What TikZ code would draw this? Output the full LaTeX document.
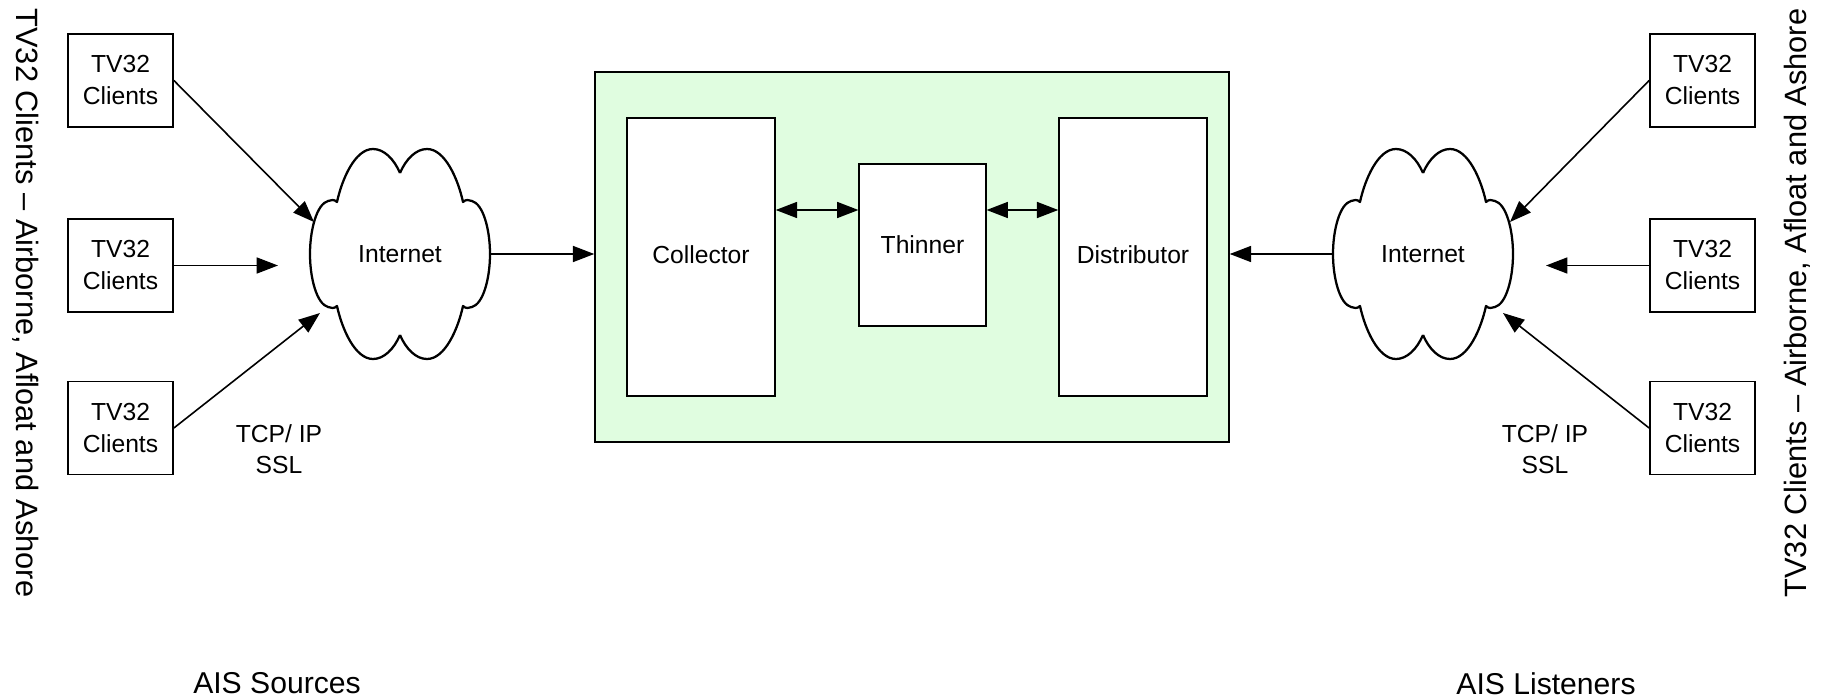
\documentclass[tikz,border=0pt]{standalone}
\usepackage{fontspec}
\setmainfont{Liberation Sans}
\usetikzlibrary{arrows.meta}

\definecolor{greenfill}{RGB}{224,253,224}

\tikzset{
  clientbox/.style={draw, line width=1.1pt, minimum width=79pt, minimum height=69.5pt,
                    inner sep=0pt, align=center, font=\fontsize{18.5}{24}\selectfont},
  blockbox/.style={draw, fill=white, line width=1.1pt, inner sep=0pt, font=\fontsize{18.5}{24}\selectfont},
  cloudbox/.style={minimum width=135pt, minimum height=157pt, inner sep=0pt, font=\fontsize{18.5}{24}\selectfont},
  lbl/.style={inner sep=0pt, align=center, font=\fontsize{18.5}{23.2}\selectfont},
  sidelbl/.style={inner sep=0pt, font=\fontsize{23.1}{28}\selectfont},
  quarter/.pic={
    \draw[-, line width=1.7pt, line join=round] (0,-81) .. controls (6,-95) and (16,-105) .. (27,-105)
      .. controls (45,-105) and (58,-75) .. (63,-52)
      .. controls (66,-55) and (69,-54) .. (72,-53)
      .. controls (83,-50) and (90,-25) .. (90,0);
  }
}

\begin{document}
\begin{tikzpicture}[x=0.75pt, y=-0.75pt, ->, >={Triangle[length=16pt,width=12pt]}, line width=1.2pt]
\useasboundingbox (0,0) rectangle (1829,699);

\node [clientbox] (srcA) at (120.5,80.5) {TV32\\Clients};
\node [clientbox] (srcB) at (120.5,265.5) {TV32\\Clients};
\node [clientbox] (srcC) at (120.5,428) {TV32\\Clients};

\node [clientbox] (lisA) at (1702.5,80.5) {TV32\\Clients};
\node [clientbox] (lisB) at (1702.5,265.5) {TV32\\Clients};
\node [clientbox] (lisC) at (1702.5,428) {TV32\\Clients};

\node [cloudbox] (netL) at (400,254) {Internet};
\node [cloudbox] (netR) at (1423,254) {Internet};
\foreach \c in {netL,netR}
  \foreach \sx/\sy in {1/1,1/-1,-1/1,-1/-1}
    \pic [xscale=\sx, yscale=\sy, shift={(\c.center)}] at (\c.center) {quarter};

\node [draw, fill=greenfill, line width=1.1pt, minimum width=475.5pt, minimum height=277.5pt] (hub) at (912,257) {};
\node [blockbox, text depth=3pt, minimum width=111pt, minimum height=208.5pt] (collector) at (701,257) {Collector};
\node [blockbox, minimum width=95pt, minimum height=121.5pt] (thinner) at (922.5,245) {Thinner};
\node [blockbox, text depth=3pt, minimum width=111pt, minimum height=208.5pt] (distributor) at (1133,257) {Distributor};

\node [lbl] (tcpL) at (279,449.5) {TCP/ IP\\SSL};
\node [lbl] (tcpR) at (1545,449.5) {TCP/ IP\\SSL};
\node [lbl, font=\fontsize{22.6}{28}\selectfont] (srcname) at (277,683.5) {AIS Sources};
\node [lbl, font=\fontsize{22.6}{28}\selectfont] (lisname) at (1546,683.5) {AIS Listeners};
\node [sidelbl, rotate=-90] (sideL) at (26,303) {TV32 Clients – Airborne,  Afloat and Ashore};
\node [sidelbl, rotate=90] (sideR) at (1797,303) {TV32 Clients – Airborne,  Afloat and Ashore};

% free ends near the clouds
\coordinate (endA) at (314,222);
\coordinate (endB) at (278,265.5);
\coordinate (endC) at (320,313);
\coordinate (endD) at (1510,222);
\coordinate (endE) at (1546,265.5);
\coordinate (endF) at (1503,313);
\coordinate (linkY) at (912,210);

\draw (srcA.east) -- (endA);
\draw (srcB.east) -- (endB);
\draw (srcC.east) -- (endC);
\draw (lisA.west) -- (endD);
\draw (lisB.west) -- (endE);
\draw (lisC.west) -- (endF);

\draw (netL.east) -- (netL.east -| hub.west);
\draw (netR.west) -- (netR.west -| hub.east);

\draw [<->] (collector.east |- linkY) -- (thinner.west |- linkY);
\draw [<->] (thinner.east |- linkY) -- (distributor.west |- linkY);
\end{tikzpicture}
\end{document}
